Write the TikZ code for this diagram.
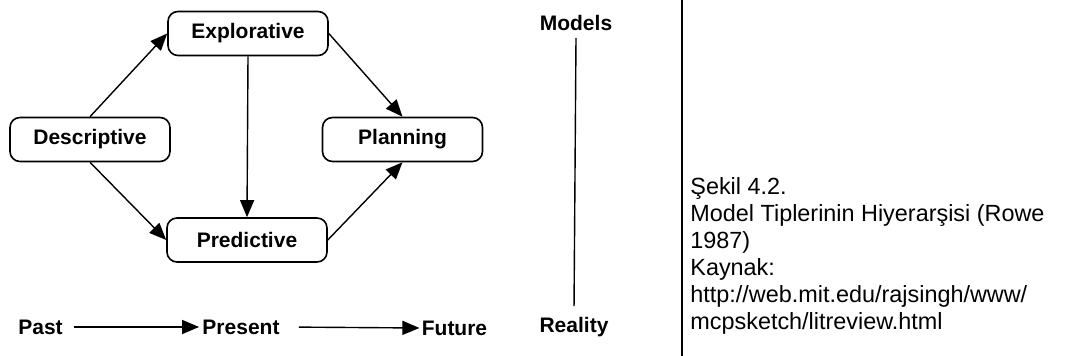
\documentclass[tikz,border=0pt]{standalone}
\usepackage{fontspec}
\setmainfont{Liberation Sans}
\usepackage{tikz}
\usetikzlibrary{arrows.meta}

\begin{document}
\begin{tikzpicture}[x=0.5pt,y=-0.5pt,
  mbox/.style={draw, line width=0.8pt, rounded corners=5pt, minimum width=80pt, minimum height=22pt, font=\bfseries\fontsize{10.5}{12}\selectfont},
  lbl/.style={font=\bfseries\fontsize{10.5}{12}\selectfont},
  a/.style={-{Triangle[length=8.5pt,width=7pt]}, line width=0.7pt}]
\useasboundingbox (0,0) rectangle (1065,356);
% model boxes
\node[mbox] (expl) at (248,33.5) {Explorative};
\node[mbox] (desc) at (90,139.5) {Descriptive};
\node[mbox] (plan) at (402.5,139.5) {Planning};
\node[mbox] (pred) at (247,240) {Predictive};
\draw[a] (desc.north) -- (expl.west);
\draw[a] (desc.south) -- (pred.west);
\draw[a] (expl.south) -- (pred.north);
\draw[a] (expl.east) -- (plan.north);
\draw[a] (pred.east) -- (plan.south);
% time axis
\node[lbl] (past) at (40.5,327) {Past};
\node[lbl, inner sep=1.5pt] (pres) at (241,327) {Present};
\node[lbl, inner sep=1pt] (fut) at (454.5,328) {Future};
\draw[a, shorten <=2pt] (past.east) -- (pres.west);
\draw[a, shorten <=8pt] (pres.east) -- (fut.west);
% models / reality scale
\node[lbl] (mod) at (576,23) {Models};
\node[lbl] (real) at (574,327) {Reality};
\draw[line width=0.7pt, shorten >=2pt] (mod.south) -- (real.north);
% separator and caption
\coordinate (sepT) at (682,0);
\coordinate (sepB) at (682,356);
\draw[line width=0.9pt] (sepT) -- (sepB);
\node[anchor=north west, inner sep=0pt, align=left, font=\fontsize{11.7}{13.5}\selectfont] (cap) at (690,177)
  {Şekil 4.2.\\Model Tiplerinin Hiyerarşisi (Rowe\\1987)\\Kaynak:\\http://web.mit.edu/rajsingh/www/\\mcpsketch/litreview.html};
\end{tikzpicture}
\end{document}
